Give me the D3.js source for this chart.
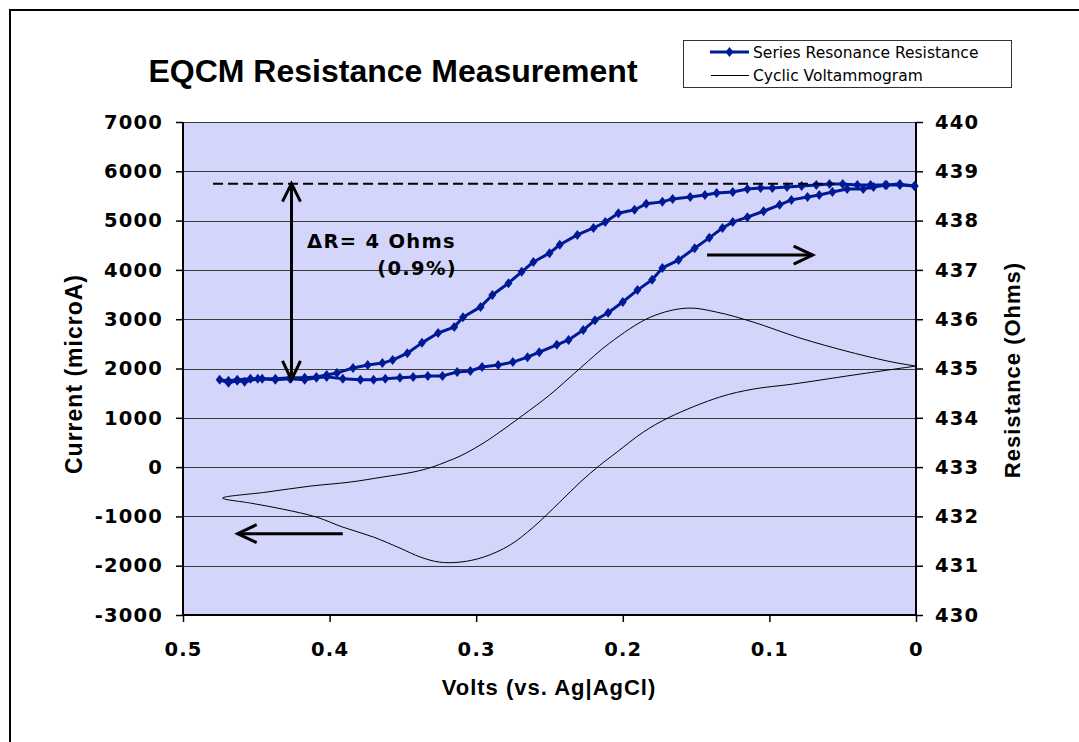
<!DOCTYPE html>
<html>
<head>
<meta charset="utf-8">
<script src="https://cdn.jsdelivr.net/npm/d3@7"></script>
<style>
  html, body { margin: 0; padding: 0; background: #ffffff; }
  svg { display: block; }
</style>
</head>
<body>
<svg id="chart" width="1079" height="742"></svg>
<script>
// ---------------- DATA ----------------
const chartTitle = "EQCM Resistance Measurement";
const xTitle = "Volts (vs. Ag|AgCl)";
const yLeftTitle = "Current  (microA)";
const yRightTitle = "Resistance (Ohms)";
const seriesNames = ["Series Resonance Resistance", "Cyclic Voltammogram"];

const xTicks = [0.5, 0.4, 0.3, 0.2, 0.1, 0];
const xTickLabels = ["0.5", "0.4", "0.3", "0.2", "0.1", "0"];
const yLeftTicks = [-3000, -2000, -1000, 0, 1000, 2000, 3000, 4000, 5000, 6000, 7000];
const yLeftTickLabels = ["-3000", "-2000", "-1000", "0", "1000", "2000", "3000", "4000", "5000", "6000", "7000"];
const yRightTicks = [430, 431, 432, 433, 434, 435, 436, 437, 438, 439, 440];
const yRightTickLabels = ["430", "431", "432", "433", "434", "435", "436", "437", "438", "439", "440"];

// Series resonance resistance (Ohms) vs potential (V), full loop
const resVolts = [
  0.001, 0.011, 0.020, 0.029, 0.036, 0.047, 0.057, 0.066, 0.074, 0.085,
  0.093, 0.104, 0.115, 0.125, 0.132, 0.141, 0.151, 0.162, 0.173, 0.180,
  0.190, 0.200, 0.210, 0.219, 0.227, 0.237, 0.245, 0.257, 0.265, 0.275,
  0.285, 0.296, 0.304, 0.313, 0.323, 0.333, 0.343, 0.352, 0.362, 0.370,
  0.379, 0.391, 0.402, 0.409, 0.417, 0.427, 0.437, 0.449, 0.458, 0.463,
  0.469, 0.475,
  0.469, 0.463, 0.454, 0.446, 0.437, 0.427, 0.417, 0.409, 0.402, 0.395,
  0.384, 0.374, 0.364, 0.357, 0.347, 0.337, 0.326, 0.315, 0.309, 0.297,
  0.289, 0.278, 0.269, 0.261, 0.250, 0.243, 0.231, 0.220, 0.212, 0.203,
  0.192, 0.184, 0.173, 0.166, 0.154, 0.144, 0.136, 0.125, 0.115, 0.106,
  0.098, 0.088, 0.078, 0.068, 0.059, 0.050, 0.040, 0.031, 0.021, 0.011,
  0.001
];
const resOhms = [
  438.70, 438.72, 438.72, 438.68, 438.64, 438.64, 438.58, 438.52, 438.48, 438.42,
  438.32, 438.19, 438.07, 437.97, 437.85, 437.65, 437.44, 437.20, 437.04, 436.80,
  436.59, 436.35, 436.13, 435.98, 435.78, 435.58, 435.48, 435.33, 435.23, 435.13,
  435.07, 435.03, 434.95, 434.93, 434.85, 434.85, 434.83, 434.81, 434.79, 434.77,
  434.77, 434.79, 434.83, 434.81, 434.77, 434.79, 434.77, 434.79, 434.73, 434.75,
  434.71, 434.77,
  434.75, 434.77, 434.79, 434.79, 434.79, 434.81, 434.81, 434.83, 434.87, 434.91,
  435.01, 435.07, 435.11, 435.17, 435.31, 435.52, 435.72, 435.84, 436.04, 436.25,
  436.49, 436.73, 436.96, 437.16, 437.34, 437.51, 437.71, 437.85, 437.97, 438.15,
  438.22, 438.34, 438.38, 438.44, 438.48, 438.52, 438.56, 438.58, 438.64, 438.66,
  438.66, 438.68, 438.70, 438.72, 438.74, 438.74, 438.72, 438.72, 438.72, 438.74,
  438.70
];

// Cyclic voltammogram current (microA) vs potential (V)
const cvVolts = [
  0.000, 0.016, 0.045, 0.079, 0.111, 0.136, 0.156, 0.181, 0.209, 0.229,
  0.250, 0.268, 0.284, 0.293, 0.302, 0.311, 0.320, 0.330, 0.343, 0.364,
  0.386, 0.413, 0.443, 0.473,
  0.454, 0.432, 0.409, 0.391, 0.370, 0.352, 0.338, 0.325, 0.311, 0.295,
  0.277, 0.261, 0.243, 0.229, 0.216, 0.204, 0.186, 0.168, 0.134, 0.111,
  0.084, 0.043, 0.000
];
const cvCurrent = [
  2050, 2130, 2333, 2617, 2941, 3144, 3225, 3043, 2515, 2008,
  1460, 1055, 710, 527, 365, 223, 112, 0, -101, -203,
  -304, -385, -507, -629,
  -730, -852, -1014, -1217, -1420, -1643, -1826, -1927, -1927, -1826,
  -1582, -1217, -710, -304, 30, 304, 710, 1014, 1420, 1582,
  1684, 1866, 2050
];

// Annotation values
const deltaRTop = 438.75;      // dashed reference level (Ohms)
const deltaRBottom = 434.77;   // base level (Ohms)
const deltaRVolt = 0.426;      // position of the double arrow (V)
const deltaText1 = "\u0394R= 4 Ohms";
const deltaText2 = "(0.9%)";

// ---------------- LAYOUT ----------------
const W = 1079, H = 742;
const plot = { left: 183, right: 916, top: 122, bottom: 615 };
const numFont = "'DejaVu Sans', Verdana, sans-serif";
const titleFont = "'Liberation Sans', Arial, sans-serif";
const resColor = "#001a96";
const bgColor = "#d4d5fb";

const svg = d3.select("#chart");
svg.append("rect").attr("x", 0).attr("y", 0).attr("width", W).attr("height", H).attr("fill", "#fff");
// chart-area frame (only top/left edges visible)
svg.append("rect").attr("x", 10).attr("y", 10).attr("width", W + 50).attr("height", H + 50)
  .attr("fill", "none").attr("stroke", "#000").attr("stroke-width", 2);

const x = d3.scaleLinear().domain([0.5, 0]).range([plot.left, plot.right]);
const yL = d3.scaleLinear().domain([-3000, 7000]).range([plot.bottom, plot.top]);
const yR = d3.scaleLinear().domain([430, 440]).range([plot.bottom, plot.top]);

// plot background
svg.append("rect").attr("x", plot.left).attr("y", plot.top)
  .attr("width", plot.right - plot.left).attr("height", plot.bottom - plot.top)
  .attr("fill", bgColor);

// gridlines
svg.append("g").selectAll("line").data(yLeftTicks.filter(d => d > -3000))
  .join("line")
  .attr("x1", plot.left).attr("x2", plot.right)
  .attr("y1", d => Math.round(yL(d)) + 0.5).attr("y2", d => Math.round(yL(d)) + 0.5)
  .attr("stroke", "#3a3a3a").attr("stroke-width", 1.2);

// axes
const axL = svg.append("g").attr("transform", `translate(${plot.left},0)`)
  .call(d3.axisLeft(yL).tickValues(yLeftTicks).tickSize(7).tickPadding(13)
    .tickFormat((d, i) => yLeftTickLabels[i]));
const axR = svg.append("g").attr("transform", `translate(${plot.right},0)`)
  .call(d3.axisRight(yR).tickValues(yRightTicks).tickSize(7).tickPadding(12)
    .tickFormat((d, i) => yRightTickLabels[i]));
const axB = svg.append("g").attr("transform", `translate(0,${plot.bottom})`)
  .call(d3.axisBottom(x).tickValues(xTicks).tickSize(7).tickPadding(20)
    .tickFormat((d, i) => xTickLabels[i]));

[axL, axR, axB].forEach(a => {
  a.select(".domain").attr("stroke", "#000").attr("stroke-width", 2);
  a.selectAll(".tick line").attr("stroke", "#000").attr("stroke-width", 1.5);
  a.selectAll(".tick text").attr("font-family", numFont).attr("font-weight", "bold")
    .attr("font-size", 19.5).attr("fill", "#000").style("letter-spacing", "1.2px");
});
axL.select(".domain").attr("d", `M0,${plot.top}V${plot.bottom}`);
axR.select(".domain").attr("d", `M0,${plot.top}V${plot.bottom}`);
axB.select(".domain").attr("d", `M${plot.left},0H${plot.right}`);

// CV line
const cvData = cvVolts.map((v, i) => [v, cvCurrent[i]]);
svg.append("path").datum(cvData)
  .attr("fill", "none").attr("stroke", "#000").attr("stroke-width", 1)
  .attr("d", d3.line().x(d => x(d[0])).y(d => yL(d[1])).curve(d3.curveCatmullRom.alpha(0.5)));

// Resistance line + markers
const resData = resVolts.map((v, i) => [v, resOhms[i]]);
svg.append("path").datum(resData)
  .attr("fill", "none").attr("stroke", resColor).attr("stroke-width", 3).attr("stroke-linejoin", "round")
  .attr("d", d3.line().x(d => x(d[0])).y(d => yR(d[1])));
const diamond = "M0,-5L4,0L0,5L-4,0Z";
svg.append("g").selectAll("path").data(resData).join("path")
  .attr("transform", d => `translate(${x(d[0])},${yR(d[1])})`)
  .attr("d", diamond).attr("fill", resColor);

// dashed reference line
svg.append("line")
  .attr("x1", x(0.4795)).attr("x2", x(0.0555))
  .attr("y1", yR(deltaRTop)).attr("y2", yR(deltaRTop))
  .attr("stroke", "#000").attr("stroke-width", 2).attr("stroke-dasharray", "10,5");

// double arrow
const ax0 = x(deltaRVolt), ayT = yR(deltaRTop), ayB = yR(deltaRBottom);
const arrowG = svg.append("g").attr("stroke", "#000").attr("stroke-width", 3).attr("fill", "none");
arrowG.append("line").attr("x1", ax0).attr("x2", ax0).attr("y1", ayT + 1).attr("y2", ayB - 1);
arrowG.append("path").attr("d", `M${ax0 - 9},${ayT + 18}L${ax0},${ayT}L${ax0 + 9},${ayT + 18}`);
arrowG.append("path").attr("d", `M${ax0 - 9},${ayB - 19}L${ax0},${ayB}L${ax0 + 9},${ayB - 19}`);

// axis-indicator arrows
const rA = { v0: 0.1425, v1: 0.0705, r: 437.3 };
arrowG.append("line").attr("x1", x(rA.v0)).attr("x2", x(rA.v1)).attr("y1", yR(rA.r)).attr("y2", yR(rA.r));
arrowG.append("path").attr("d", `M${x(rA.v1) - 19},${yR(rA.r) - 9}L${x(rA.v1)},${yR(rA.r)}L${x(rA.v1) - 19},${yR(rA.r) + 9}`);
const lA = { v0: 0.391, v1: 0.4627, i: -1350 };
arrowG.append("line").attr("x1", x(lA.v0)).attr("x2", x(lA.v1)).attr("y1", yL(lA.i)).attr("y2", yL(lA.i));
arrowG.append("path").attr("d", `M${x(lA.v1) + 19},${yL(lA.i) - 9}L${x(lA.v1)},${yL(lA.i)}L${x(lA.v1) + 19},${yL(lA.i) + 9}`);

// annotation text
svg.append("text").attr("x", 456).attr("y", 248).attr("text-anchor", "end")
  .attr("font-family", numFont).attr("font-weight", "bold").attr("font-size", 19.5)
  .style("letter-spacing", "1.3px").text(deltaText1);
svg.append("text").attr("x", 457).attr("y", 275).attr("text-anchor", "end")
  .attr("font-family", numFont).attr("font-weight", "bold").attr("font-size", 19.5)
  .style("letter-spacing", "1.3px").text(deltaText2);

// titles
svg.append("text").attr("x", 393).attr("y", 82).attr("text-anchor", "middle")
  .attr("font-family", titleFont).attr("font-weight", "bold").attr("font-size", 32)
  .text(chartTitle);
svg.append("text").attr("x", 549).attr("y", 695).attr("text-anchor", "middle")
  .attr("font-family", titleFont).attr("font-weight", "bold").attr("font-size", 22)
  .style("letter-spacing", "1px").text(xTitle);
svg.append("text").attr("transform", "translate(82,374) rotate(-90)").attr("text-anchor", "middle")
  .attr("font-family", titleFont).attr("font-weight", "bold").attr("font-size", 23)
  .style("letter-spacing", "1px").text(yLeftTitle);
svg.append("text").attr("transform", "translate(1020,370) rotate(-90)").attr("text-anchor", "middle")
  .attr("font-family", titleFont).attr("font-weight", "bold").attr("font-size", 22)
  .style("letter-spacing", "1px").text(yRightTitle);

// legend
const lg = svg.append("g");
lg.append("rect").attr("x", 683.5).attr("y", 40.5).attr("width", 328).attr("height", 47)
  .attr("fill", "#fff").attr("stroke", "#333").attr("stroke-width", 1);
lg.append("line").attr("x1", 710).attr("x2", 749).attr("y1", 52).attr("y2", 52)
  .attr("stroke", resColor).attr("stroke-width", 3);
lg.append("path").attr("transform", "translate(729.5,52)").attr("d", diamond).attr("fill", resColor);
lg.append("line").attr("x1", 711).attr("x2", 749).attr("y1", 75.5).attr("y2", 75.5)
  .attr("stroke", "#000").attr("stroke-width", 1);
lg.selectAll("text.lgt").data(seriesNames).join("text").attr("class", "lgt")
  .attr("x", 753).attr("y", (d, i) => 58 + i * 23)
  .attr("font-family", numFont).attr("font-size", 15.5).attr("fill", "#000").text(d => d);
</script>
</body>
</html>
